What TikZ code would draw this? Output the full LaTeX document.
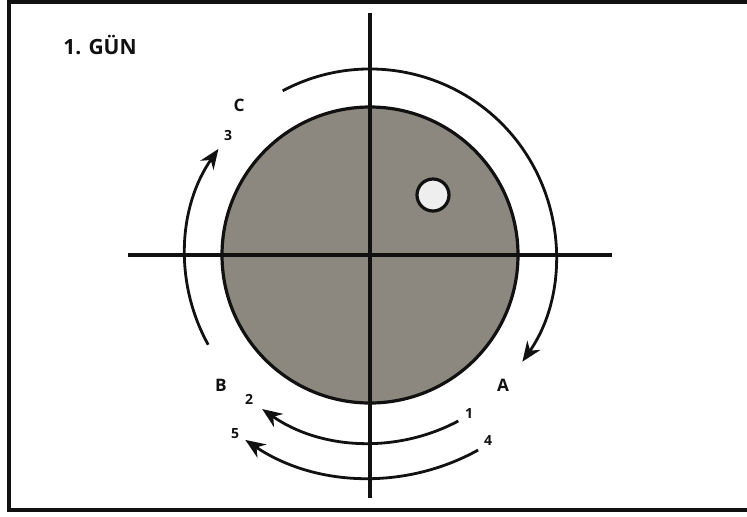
\documentclass[tikz,border=0pt]{standalone}
\usepackage{fontspec}
\setmainfont{Open Sans}
\usepackage{tikz}
\usetikzlibrary{arrows.meta}
\definecolor{ink}{HTML}{111111}
\definecolor{disk}{HTML}{8C877F}
\definecolor{spot}{HTML}{EEEEEE}

\begin{document}
\begin{tikzpicture}[x=0.5pt, y=0.5pt,
    axis/.style={draw=ink, line width=1.7pt},
    orbit/.style={draw=ink, line width=1.4pt, -{Stealth[length=10pt, width=8pt]}},
    tag/.style={font=\bfseries\fontsize{8.6}{9}\selectfont, text=ink, inner sep=0pt},
    num/.style={font=\bfseries\fontsize{7}{8}\selectfont, text=ink, inner sep=0pt}]
  \useasboundingbox (-370,-261) rectangle (377,255);
  % frame, open on the right
  \draw[ink, line width=1.6pt] (390,253) -- (-361,253) -- (-361,-255) -- (390,-255);
  \coordinate (O) at (0,0);
  % disk and the white spot
  \filldraw[fill=disk, draw=ink, line width=1.6pt] (O) circle[radius=148];
  \filldraw[fill=spot, draw=ink, line width=1.6pt] (63,60) circle[radius=16];
  % axes
  \coordinate (N) at (0,242);
  \coordinate (S) at (0,-243);
  \coordinate (W) at (-242,0);
  \coordinate (E) at (242,0);
  \draw[axis] (N) -- (S);
  \draw[axis] (W) -- (E);
  % arcs: radius / start / end
  \foreach \r/\s/\e in {186/118/-35, 185/209/145, 188/-62/-125, 223/-61/-124} {
    \draw[orbit] ([shift={(\s:\r)}]O) arc[start angle=\s, end angle=\e, radius=\r];
  }
  % labels
  \node[font=\bfseries\fontsize{10.5}{12}\selectfont, text=ink, inner sep=0pt]
    (title) at (-270,210) {1. GÜN};
  \node[tag] (labC) at (-131,150) {C};
  \node[tag] (labB) at (-149,-130) {B};
  \node[tag] (labA) at (133,-130) {A};
  \foreach \n/\px/\py in {1/99/-158, 2/-121/-144, 3/-142/120, 4/118/-185, 5/-135/-179} {
    \node[num] (num\n) at (\px,\py) {\n};
  }
\end{tikzpicture}
\end{document}
